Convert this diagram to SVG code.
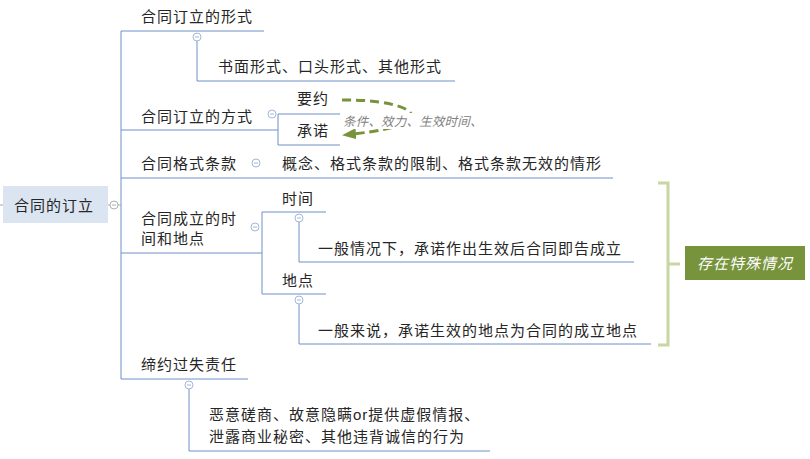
<svg xmlns="http://www.w3.org/2000/svg" width="810" height="459" viewBox="0 0 810 459">
<style>
text{font-family:"Liberation Sans","Noto Sans CJK SC",sans-serif;font-size:15px;letter-spacing:1px;fill:#262626}
.ln{stroke:#6f8fc8;stroke-width:1;fill:none}
.cc circle{fill:#fff;stroke:#a3b6da;stroke-width:1}
.cc path{stroke:#a3b6da;stroke-width:1}
.lbl{font-size:12.5px;font-style:italic;fill:#7f7f7f;letter-spacing:0.2px}
.note{fill:#fff;font-style:italic}
</style>
<defs>
<marker id="ah" viewBox="0 0 14 11" refX="3" refY="5.5" markerWidth="14" markerHeight="11" orient="auto" markerUnits="userSpaceOnUse">
<path d="M0,0 L14,5.5 L0,11 z" fill="#77933c"/>
</marker>
</defs>
<rect width="810" height="459" fill="#fff"/>
<g id="connectors">
<path class="ln" d="M121,31 V379"/>
<path class="ln" d="M121,31 H264"/>
<path class="ln" d="M197,41 V81 H455"/>
<path class="ln" d="M121,130 H278"/>
<path class="ln" d="M340,114 H278 V145 H340"/>
<path class="ln" d="M121,178 H613"/>
<path class="ln" d="M121,253 H262"/>
<path class="ln" d="M326,212 H262 V294 H326"/>
<path class="ln" d="M299,222 V262 H634"/>
<path class="ln" d="M299,304 V344 H651"/>
<path class="ln" d="M121,379 H248"/>
<path class="ln" d="M189,389 V451 H490"/>
<path d="M0,205 H3 M108,205 H110 M118,205 H121" stroke="#a8a8a8" stroke-width="1" fill="none"/>
<path d="M342,100 C415,99 448,124 353,134" stroke="#77933c" stroke-width="3" fill="none" stroke-dasharray="9,5" marker-end="url(#ah)"/>
<path d="M658,183 H668 V345 H658 M668,264 H680" stroke="#c8d6a3" stroke-width="3" fill="none"/>
</g>
<g class="cc">
<g><circle cx="114" cy="205" r="4" style="stroke:#b0b0b0"/><path d="M112,205 H116" style="stroke:#b0b0b0"/></g>
<g><circle cx="197" cy="37" r="4"/><path d="M195,37 H199"/></g>
<g><circle cx="272" cy="114" r="4"/><path d="M270,114 H274"/></g>
<g><circle cx="256" cy="163" r="4"/><path d="M254,163 H258"/></g>
<g><circle cx="255" cy="227" r="4"/><path d="M253,227 H257"/></g>
<g><circle cx="299" cy="218" r="4"/><path d="M297,218 H301"/></g>
<g><circle cx="299" cy="300" r="4"/><path d="M297,300 H301"/></g>
<g><circle cx="189" cy="385" r="4"/><path d="M187,385 H191"/></g>
</g>
<g id="root"><rect x="3" y="186" width="105" height="37" fill="#dbe5f1"/><text x="14" y="211">合同的订立</text></g>
<g id="n-form"><text x="141" y="22">合同订立的形式</text></g>
<g id="n-form-c"><text x="218" y="72">书面形式、口头形式、其他形式</text></g>
<g id="n-way"><text x="141" y="122">合同订立的方式</text></g>
<g id="n-offer"><text x="297" y="104">要约</text></g>
<g id="n-accept"><text x="297" y="136">承诺</text></g>
<g id="lbl-arrow"><rect x="342" y="113" width="138" height="16" fill="#fff"/><text class="lbl" x="343" y="126">条件、效力、生效时间、</text></g>
<g id="n-clause"><text x="141" y="169">合同格式条款</text></g>
<g id="n-clause-c"><text x="282" y="169">概念、格式条款的限制、格式条款无效的情形</text></g>
<g id="n-timeplace"><text x="141" y="224">合同成立的时</text><text x="141" y="244">间和地点</text></g>
<g id="n-time"><text x="282" y="204">时间</text></g>
<g id="n-time-c"><text x="318" y="254">一般情况下，承诺作出生效后合同即告成立</text></g>
<g id="n-place"><text x="282" y="286">地点</text></g>
<g id="n-place-c"><text x="318" y="336">一般来说，承诺生效的地点为合同的成立地点</text></g>
<g id="n-special"><rect x="685" y="246" width="120" height="34" fill="#77933c"/><text class="note" x="697" y="269">存在特殊情况</text></g>
<g id="n-fault"><text x="141" y="370">缔约过失责任</text></g>
<g id="n-fault-c"><text x="209" y="420">恶意磋商、故意隐瞒or提供虚假情报、</text><text x="209" y="442">泄露商业秘密、其他违背诚信的行为</text></g>
</svg>
